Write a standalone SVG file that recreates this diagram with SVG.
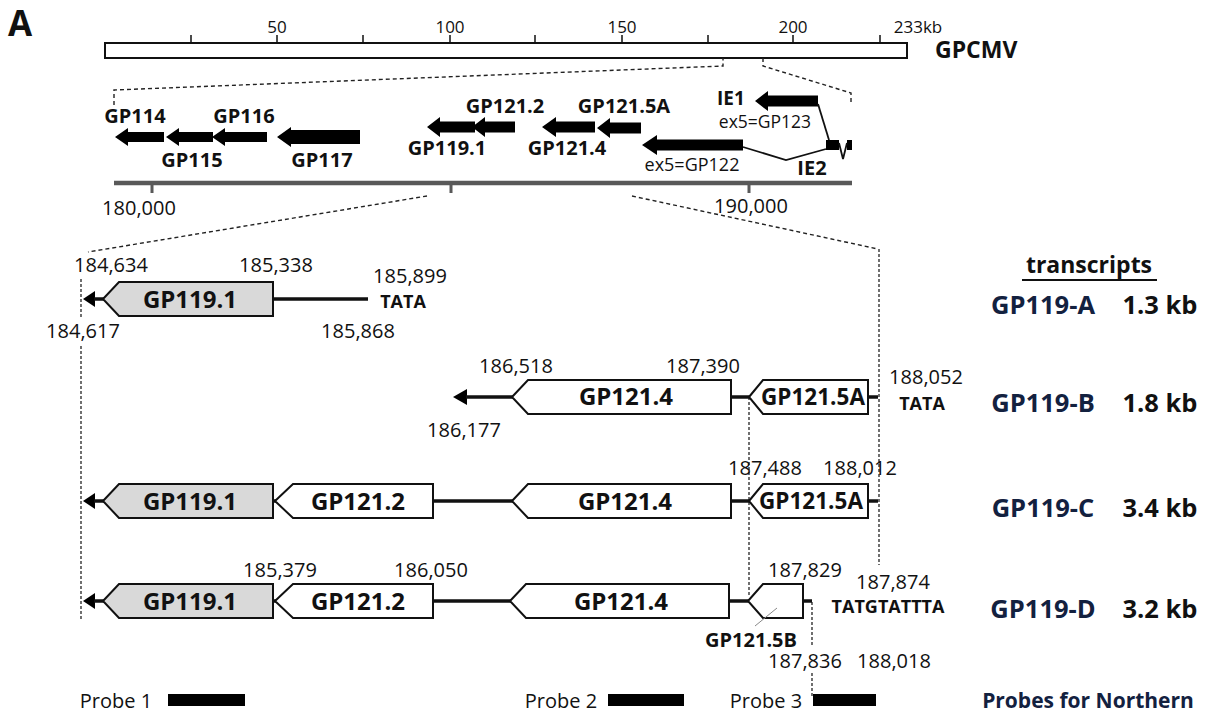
<svg xmlns="http://www.w3.org/2000/svg" width="1211" height="722" viewBox="0 0 1211 722">
<style>
text{font-family:"Open Sans","Noto Sans","Liberation Sans",sans-serif;fill:#111}
.n{font-size:20px;text-anchor:middle}
.s{font-size:17px;text-anchor:middle}
.b{font-weight:bold;text-anchor:middle}
.lbl{font-size:20px}
.bx{font-size:24px}
.bx5{font-size:22.5px}
.nv{fill:#13213f;font-weight:bold;font-size:25.5px;text-anchor:middle}
.kb{font-weight:bold;font-size:25.5px;text-anchor:middle}
.gene{stroke:#111;stroke-width:2;stroke-linejoin:miter}
.gray{fill:#d9d9d9}
.white{fill:#fff}
.arr{fill:#000}
.dash{fill:none;stroke:#222;stroke-width:1.4;stroke-dasharray:4 3}
.vd{fill:none;stroke:#111;stroke-width:1.2;stroke-dasharray:3 2}
.ln{stroke:#111;stroke-width:3.5;fill:none}
.thin{stroke:#111;stroke-width:1.8;fill:none}
</style>

<text x="8" y="36" style="font-size:35px;font-weight:bold">A</text>

<g id="genome-bar">
  <rect x="105" y="43" width="802" height="15" fill="#fff" stroke="#111" stroke-width="2"/>
  <path d="M191 35V43M277 35V43M363 35V43M450 35V43M535 35V43M622 35V43M708 35V43M793 35V43M880 35V43" stroke="#111" stroke-width="1.5"/>
  <text class="s" x="277" y="33">50</text>
  <text class="s" x="450" y="33">100</text>
  <text class="s" x="622" y="33">150</text>
  <text class="s" x="793" y="33">200</text>
  <text class="s" x="918" y="33">233kb</text>
  <text x="935" y="58" style="font-size:23px;font-weight:bold">GPCMV</text>
</g>

<g id="connectors">
  <polyline class="dash" points="114,105 114,90 723,66 723,58"/>
  <polyline class="dash" points="763,58 763,66 851,93 851,104"/>
  <line class="dash" x1="427" y1="196" x2="88" y2="252"/>
  <line class="dash" x1="632" y1="196" x2="878" y2="249"/>
  <line class="vd" x1="81" y1="279" x2="81" y2="318"/>
  <line class="vd" x1="81" y1="346" x2="81" y2="620"/>
  <line class="vd" x1="879" y1="249" x2="879" y2="565"/>
  <line class="vd" x1="749" y1="397" x2="749" y2="597"/>
  <line class="vd" x1="812" y1="602" x2="812" y2="647"/>
  <line class="vd" x1="812" y1="673" x2="812" y2="697"/>
</g>

<g id="region-axis">
  <line x1="114" y1="183" x2="852" y2="183" stroke="#595959" stroke-width="4.5"/>
  <path d="M152 183V193M451 183V193M749 183V193" stroke="#595959" stroke-width="3"/>
  <text class="n" x="139" y="215">180,000</text>
  <text class="n" x="751" y="213">190,000</text>
</g>

<g id="region-genes">
  <polygon class="arr" points="115,137 128,128 128,132 164,132 164,142 128,142 128,146"/>
  <polygon class="arr" points="166,137 179,128 179,132 213,132 213,142 179,142 179,146"/>
  <polygon class="arr" points="212,137 225,128 225,132 267,132 267,142 225,142 225,146"/>
  <polygon class="arr" points="277,137 291,127 291,130 360,130 360,144 291,144 291,147"/>
  <polygon class="arr" points="427,127 440,117 440,121.5 475,121.5 475,132.5 440,132.5 440,137"/>
  <polygon class="arr" points="472,127 485,117 485,121.5 515,121.5 515,132.5 485,132.5 485,137"/>
  <polygon class="arr" points="542,127 556,117 556,121.5 595,121.5 595,132.5 556,132.5 556,137"/>
  <polygon class="arr" points="597,128 610,118 610,122.5 641,122.5 641,133.5 610,133.5 610,138"/>
  <polygon class="arr" points="642,145 657,135 657,139.5 743,139.5 743,150.5 657,150.5 657,155"/>
  <polygon class="arr" points="755,101 768,91 768,95.5 818,95.5 818,106.5 768,106.5 768,111"/>
  <polyline class="thin" points="743,147 786,160 826,149"/>
  <polyline class="thin" points="818,104 829,140"/>
  <rect x="826" y="140" width="13" height="10" fill="#000"/>
  <rect x="847" y="140" width="5" height="10" fill="#000"/>
  <polyline class="thin" points="839,143 843,159 847,143"/>
  <text class="b lbl" x="135" y="123">GP114</text>
  <text class="b lbl" x="244" y="123">GP116</text>
  <text class="b lbl" x="192" y="167">GP115</text>
  <text class="b lbl" x="322" y="167">GP117</text>
  <text class="b lbl" x="505" y="113">GP121.2</text>
  <text class="b lbl" x="624" y="113">GP121.5A</text>
  <text class="b lbl" x="447" y="155">GP119.1</text>
  <text class="b lbl" x="567" y="155">GP121.4</text>
  <text x="717" y="105" style="font-size:19px;font-weight:bold">IE1</text>
  <text class="n" x="765" y="128" style="font-size:17.5px">ex5=GP123</text>
  <text class="n" x="692" y="171" style="font-size:18px">ex5=GP122</text>
  <text class="b lbl" x="812" y="175">IE2</text>
</g>

<g id="row-A">
  <polygon class="arr" points="83,299 95,291 95,307"/>
  <line class="ln" x1="94" y1="299" x2="104" y2="299"/>
  <line class="ln" x1="273" y1="299" x2="368" y2="299"/>
  <polygon class="gene gray" points="103,299 119,282 273,282 273,316 119,316"/>
  <text class="b bx" x="190" y="308">GP119.1</text>
  <text class="n" x="111" y="272">184,634</text>
  <text class="n" x="276" y="272">185,338</text>
  <text class="n" x="410" y="283">185,899</text>
  <text class="b" x="403" y="308" style="font-size:18px">TATA</text>
  <text class="n" x="83" y="338">184,617</text>
  <text class="n" x="358" y="338">185,868</text>
</g>

<g id="row-B">
  <polygon class="arr" points="453,397 467,389 467,405"/>
  <line class="ln" x1="466" y1="397" x2="514" y2="397"/>
  <line class="ln" x1="731" y1="397" x2="750" y2="397"/>
  <line class="ln" x1="868" y1="397" x2="878" y2="397"/>
  <polygon class="gene white" points="512,397 528,380 731,380 731,414 528,414"/>
  <polygon class="gene white" points="749,397 763,380 868,380 868,414 763,414"/>
  <text class="b bx" x="626" y="405">GP121.4</text>
  <text class="b bx5" x="813" y="405">GP121.5A</text>
  <text class="n" x="516" y="373">186,518</text>
  <text class="n" x="703" y="373">187,390</text>
  <text class="n" x="464" y="437">186,177</text>
  <text class="n" x="926" y="384">188,052</text>
  <text class="b" x="922" y="410" style="font-size:18px">TATA</text>
</g>

<g id="row-C">
  <polygon class="arr" points="83,501 95,493 95,509"/>
  <line class="ln" x1="94" y1="501" x2="104" y2="501"/>
  <line class="ln" x1="273" y1="501" x2="276" y2="501"/>
  <line class="ln" x1="433" y1="501" x2="513" y2="501"/>
  <line class="ln" x1="731" y1="501" x2="750" y2="501"/>
  <line class="ln" x1="868" y1="501" x2="878" y2="501"/>
  <polygon class="gene gray" points="103,501 119,484 273,484 273,518 119,518"/>
  <polygon class="gene white" points="275,501 293,484 433,484 433,518 293,518"/>
  <polygon class="gene white" points="512,501 528,484 731,484 731,518 528,518"/>
  <polygon class="gene white" points="749,501 763,484 868,484 868,518 763,518"/>
  <text class="b bx" x="190" y="510">GP119.1</text>
  <text class="b bx" x="358" y="510">GP121.2</text>
  <text class="b bx" x="625" y="510">GP121.4</text>
  <text class="b bx5" x="811" y="509">GP121.5A</text>
  <text class="n" x="765" y="475">187,488</text>
  <text class="n" x="860" y="475">188,012</text>
</g>

<g id="row-D">
  <polygon class="arr" points="83,601 95,593 95,609"/>
  <line class="ln" x1="94" y1="601" x2="104" y2="601"/>
  <line class="ln" x1="273" y1="601" x2="276" y2="601"/>
  <line class="ln" x1="433" y1="601" x2="511" y2="601"/>
  <line class="ln" x1="729" y1="601" x2="749" y2="601"/>
  <line class="ln" x1="803" y1="601" x2="812" y2="601"/>
  <polygon class="gene gray" points="103,601 119,584 273,584 273,618 119,618"/>
  <polygon class="gene white" points="275,601 293,584 433,584 433,618 293,618"/>
  <polygon class="gene white" points="510,601 526,584 729,584 729,618 526,618"/>
  <polygon class="gene white" points="748,601 763,584 803,584 803,618 763,618"/>
  <line x1="755" y1="626" x2="777" y2="608" stroke="#888" stroke-width="1"/>
  <text class="b bx" x="190" y="610">GP119.1</text>
  <text class="b bx" x="358" y="610">GP121.2</text>
  <text class="b bx" x="621" y="610">GP121.4</text>
  <text class="b lbl" x="751" y="647">GP121.5B</text>
  <text class="n" x="280" y="577">185,379</text>
  <text class="n" x="431" y="577">186,050</text>
  <text class="n" x="805" y="577">187,829</text>
  <text class="n" x="893" y="589">187,874</text>
  <text class="b" x="888" y="613" style="font-size:18px">TATGTATTTA</text>
  <text class="n" x="805" y="668">187,836</text>
  <text class="n" x="894" y="668">188,018</text>
</g>

<g id="probes">
  <text class="n" x="116" y="708">Probe 1</text>
  <rect x="168" y="694" width="77" height="12" fill="#000"/>
  <text class="n" x="561" y="708">Probe 2</text>
  <rect x="608" y="694" width="76" height="12" fill="#000"/>
  <text class="n" x="766" y="708">Probe 3</text>
  <rect x="813" y="694" width="63" height="12" fill="#000"/>
  <text x="1088" y="708" style="fill:#13213f;font-weight:bold;font-size:21px;text-anchor:middle">Probes for Northern</text>
</g>

<g id="transcripts">
  <text class="b" x="1089" y="273" style="font-size:23px">transcripts</text>
  <line x1="1022" y1="280" x2="1157" y2="280" stroke="#111" stroke-width="1.8"/>
  <text class="nv" x="1043" y="314">GP119-A</text>
  <text class="kb" x="1160" y="314">1.3 kb</text>
  <text class="nv" x="1043" y="412">GP119-B</text>
  <text class="kb" x="1160" y="412">1.8 kb</text>
  <text class="nv" x="1043" y="517">GP119-C</text>
  <text class="kb" x="1160" y="517">3.4 kb</text>
  <text class="nv" x="1043" y="618">GP119-D</text>
  <text class="kb" x="1160" y="618">3.2 kb</text>
</g>
</svg>
